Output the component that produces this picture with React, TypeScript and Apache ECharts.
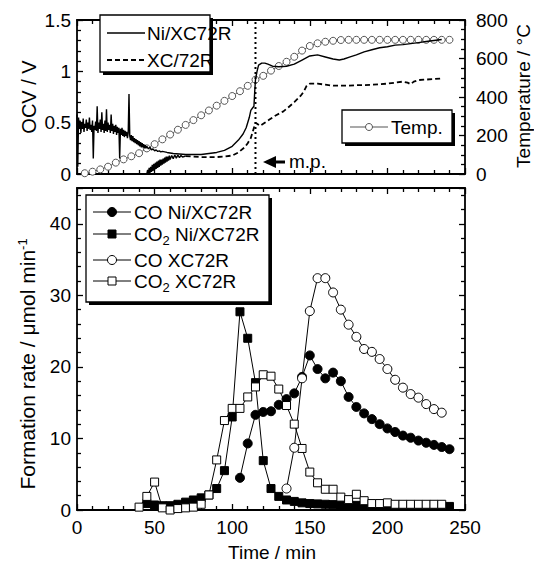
import React, { useEffect, useRef } from 'react';
import * as echarts from 'echarts';

const FONT = '"Liberation Sans", Arial, Helvetica, sans-serif';

// ---------- Top panel: OCV / V vs Time / min ----------
const niOcv: [number, number][] = [
  [0, 0.58], [0.5, 0.07], [1, 0.55], [1.5, 0.44], [2, 0.52], [2.5, 0.4], [3, 0.5], [3.5, 0.44],
  [4, 0.54], [4.5, 0.41], [5, 0.49], [5.5, 0.45], [6, 0.53], [6.5, 0.42], [7, 0.5], [7.5, 0.44],
  [8, 0.55], [8.5, 0.43], [9, 0.48], [9.5, 0.41], [10, 0.52], [10.5, 0.15], [11, 0.47], [11.5, 0.43],
  [12, 0.51], [12.5, 0.42], [13, 0.66], [13.5, 0.4], [14, 0.5], [14.5, 0.44], [15, 0.53], [15.5, 0.41],
  [16, 0.6], [16.5, 0.43], [17, 0.49], [17.5, 0.4], [18, 0.52], [18.5, 0.42], [19, 0.63], [19.5, 0.41],
  [20, 0.5], [20.5, 0.43], [21, 0.48], [21.5, 0.4], [22, 0.58], [22.5, 0.42], [23, 0.49], [23.5, 0.39],
  [24, 0.47], [24.5, 0.41], [25, 0.48], [25.5, 0.38], [26, 0.46], [26.5, 0.4], [27, 0.45], [27.5, 0.15],
  [28, 0.44], [28.5, 0.38], [29, 0.45], [29.5, 0.37], [30, 0.43], [30.5, 0.36], [31, 0.42], [31.5, 0.37],
  [32, 0.41], [32.5, 0.35], [33, 0.4], [33.5, 0.78], [34, 0.37], [34.5, 0.33], [35, 0.38], [35.5, 0.32],
  [36, 0.37], [36.5, 0.31], [37, 0.35], [37.5, 0.3], [38, 0.34], [38.5, 0.29], [39, 0.33], [39.5, 0.28],
  [40, 0.32], [40.5, 0.27], [41, 0.31], [41.5, 0.26], [42, 0.3], [42.5, 0.26], [43, 0.29], [43.5, 0.25],
  [44, 0.28], [44.5, 0.25], [45, 0.27], [46, 0.245], [47, 0.26], [48, 0.235], [49, 0.245], [50, 0.225],
  [51, 0.235], [52, 0.22], [53, 0.225], [54, 0.215], [55, 0.22], [58, 0.21], [62, 0.2], [66, 0.195],
  [70, 0.19], [75, 0.19], [80, 0.19], [85, 0.2], [90, 0.21], [95, 0.23], [100, 0.27], [104, 0.33],
  [107, 0.39], [109, 0.45], [111, 0.55], [112, 0.62], [113, 0.64], [114, 0.66], [114.5, 0.8], [115, 0.92],
  [116, 1.0], [117, 1.06], [119, 1.08], [121, 1.08], [123, 1.07], [126, 1.05], [130, 1.045], [135, 1.05],
  [140, 1.07], [145, 1.11], [150, 1.15], [155, 1.16], [160, 1.14], [165, 1.12], [169, 1.11], [172, 1.12],
  [176, 1.14], [180, 1.16], [185, 1.19], [190, 1.21], [195, 1.23], [200, 1.24], [205, 1.255], [210, 1.26],
  [215, 1.27], [220, 1.28], [225, 1.29], [230, 1.3], [235, 1.31],
];

// XC/72R: noisy onset (drawn solid, as it looks in the figure) then the dashed trace
const xcOcvOnset: [number, number][] = [
  [45, 0.0], [45.5, 0.04], [46, 0.0], [46.5, 0.06], [47, 0.01], [47.5, 0.07], [48, 0.02], [48.5, 0.09],
  [49, 0.03], [49.5, 0.1], [50, 0.04], [50.5, 0.11], [51, 0.05], [51.5, 0.12], [52, 0.06], [52.5, 0.13],
  [53, 0.07], [53.5, 0.14], [54, 0.08], [54.5, 0.14], [55, 0.09], [55.5, 0.15], [56, 0.1], [56.5, 0.16],
  [57, 0.11], [57.5, 0.17], [58, 0.12], [58.5, 0.17], [59, 0.13], [59.5, 0.18], [60, 0.14], [61, 0.18],
  [62, 0.15], [63, 0.185], [64, 0.155], [65, 0.185], [66, 0.16], [67, 0.18], [68, 0.165], [70, 0.175],
];
const xcOcv: [number, number][] = [
  [70, 0.175], [75, 0.17], [80, 0.165], [85, 0.165], [90, 0.165], [95, 0.17], [100, 0.18], [104, 0.21], [108, 0.26],
  [110, 0.3], [112, 0.35], [113, 0.4], [114, 0.45], [115, 0.5], [116, 0.49], [118, 0.47], [120, 0.49],
  [124, 0.53], [128, 0.57], [133, 0.61], [137, 0.66], [140, 0.7], [144, 0.76], [146, 0.8], [148, 0.86],
  [150, 0.88], [155, 0.88], [160, 0.87], [165, 0.86], [170, 0.86], [175, 0.86], [180, 0.865], [185, 0.865],
  [190, 0.87], [195, 0.875], [200, 0.88], [205, 0.89], [210, 0.9], [213, 0.89], [215, 0.875], [217, 0.9],
  [220, 0.915], [225, 0.92], [230, 0.925], [234, 0.93],
];

const tempTimes = [5, 10, 15, 20, 25, 30, 35, 40, 45, 50, 55, 60, 65, 70, 75, 80, 85, 90, 95, 100,
  105, 110, 115, 120, 125, 130, 135, 140, 145, 150, 155, 160, 165, 170, 175, 180, 185, 190, 195, 200,
  205, 210, 215, 220, 225, 230, 235, 240];
const tempValues = [4, 12, 24, 38, 59, 76, 92, 108, 133, 155, 180, 205, 230, 255, 280, 305, 330, 355, 380, 405,
  430, 458, 490, 510, 537, 561, 583, 609, 641, 665, 679, 687, 692, 696, 697, 697, 697, 697, 697, 697,
  697, 697, 697, 697, 697, 697, 697, 697];

const meltingPointTime = 115;
const ocvRange = [0, 1.5];

// ---------- Bottom panel: Formation rate / umol min-1 ----------
const co2NiTimes = [45, 50, 55, 60, 65, 70, 75, 80, 85, 90, 95, 100, 105, 110, 115, 120, 125, 130, 135, 140,
  145, 150, 155, 160, 165, 170, 175, 180, 185, 190, 195, 200, 205, 210, 215, 220, 225, 230, 235, 240];
const co2NiValues = [0.9, 0.7, 0.6, 0.6, 0.8, 1.1, 1.4, 1.7, 2.1, 3.0, 5.5, 13.0, 27.7, 24.0, 17.8, 6.9, 3.0, 1.9, 1.4, 1.2,
  1.0, 0.9, 0.85, 0.8, 0.75, 0.7, 0.7, 0.65, 0.6, 0.6, 0.6, 0.55, 0.55, 0.55, 0.5, 0.5, 0.5, 0.5, 0.5, 0.5];

const co2XcTimes = [40, 45, 50, 55, 60, 65, 70, 75, 80, 85, 90, 95, 100, 105, 110, 115, 120, 125, 130, 135,
  140, 145, 150, 155, 160, 165, 170, 175, 180, 185, 190, 195, 200, 205, 210, 215, 220, 225, 230, 235];
const co2XcValues = [0.4, 1.9, 3.9, 0.3, 0.0, 0.2, 0.3, 0.4, 0.8, 2.1, 7.0, 12.5, 14.2, 14.2, 15.8, 17.2, 18.9, 18.7, 16.9, 14.6,
  12.0, 8.6, 5.3, 3.8, 2.9, 2.9, 1.8, 1.45, 2.2, 1.3, 0.9, 0.9, 1.0, 0.8, 0.8, 0.8, 0.8, 0.8, 0.8, 0.8];

const coNiTimes = [105, 110, 115, 120, 125, 130, 135, 140, 145, 150, 155, 160, 165, 170, 175, 180, 185, 190,
  195, 200, 205, 210, 215, 220, 225, 230, 235, 240];
const coNiValues = [4.5, 9.3, 13.3, 13.7, 13.8, 14.7, 15.5, 16.3, 18.6, 21.6, 19.7, 18.4, 19.2, 18.0, 15.8, 14.4, 13.5, 12.7,
  12.0, 11.4, 10.9, 10.4, 10.1, 9.7, 9.4, 9.1, 8.8, 8.5];

const coXcTimes = [135, 140, 145, 150, 155, 160, 165, 170, 175, 180, 185, 190, 195, 200, 205, 210, 215, 220, 225, 230, 235];
const coXcValues = [3.0, 8.7, 18.4, 27.8, 32.4, 32.4, 30.4, 28.0, 25.9, 24.2, 22.5, 22.1, 21.1, 19.7, 18.2, 17.1, 16.2, 15.7,
  14.8, 14.1, 13.6];

const timeTicks = { min: 0, max: 250, interval: 50 };

const zip = (t: number[], v: number[]) => t.map((x, i) => [x, v[i]]);

const BLACK = '#000';
const FS = 19;
const lineSt = { color: BLACK, width: 1.8 };
const tickSt = { color: BLACK, width: 1.3 };

function xAxis(grid: number, position: string, labels: boolean) {
  return {
    type: 'value', gridIndex: grid, position, ...timeTicks,
    axisLine: { show: true, onZero: false, lineStyle: lineSt },
    axisTick: { show: true, inside: true, length: 6, lineStyle: tickSt },
    minorTick: { show: true, splitNumber: 5, length: 4, lineStyle: tickSt },
    axisLabel: { show: labels, color: BLACK, fontSize: FS, fontFamily: FONT, margin: 8 },
    splitLine: { show: false },
  };
}

function yAxis(grid: number, position: string, min: number, max: number, interval: number, minorSplit: number,
  labels: boolean, margin = 6, showMax = true) {
  return {
    type: 'value', gridIndex: grid, position, min, max, interval,
    axisLine: { show: true, onZero: false, lineStyle: lineSt },
    axisTick: { show: true, inside: true, length: 6, lineStyle: tickSt },
    minorTick: { show: true, splitNumber: minorSplit, length: 4, lineStyle: tickSt },
    axisLabel: { show: labels, color: BLACK, fontSize: FS, fontFamily: FONT, margin, showMaxLabel: showMax },
    splitLine: { show: false },
  };
}

const FTXT = `${FS}px ${FONT}`;

function buildGraphic() {
  const g: any[] = [];
  const Z = 50;
  const box = (x: number, y: number, w: number, h: number) => {
    g.push({ type: 'rect', z: Z, shape: { x: x + 3, y: y + 3, width: w, height: h }, style: { fill: BLACK } });
    g.push({ type: 'rect', z: Z + 1, shape: { x, y, width: w, height: h }, style: { fill: '#fff', stroke: BLACK, lineWidth: 1.3 } });
  };
  const txt = (x: number, y: number, text: string, extra: any = {}) => {
    g.push({
      type: 'text', z: Z + 2, x, y,
      style: { text, font: FTXT, fill: BLACK, textAlign: 'left', textVerticalAlign: 'middle', align: 'left', verticalAlign: 'middle', ...extra },
    });
  };
  const seg = (x1: number, x2: number, y: number, stroke = BLACK, lineDash: any = null, lineWidth = 1.2) => {
    g.push({ type: 'line', z: Z + 2, shape: { x1, y1: y, x2, y2: y }, style: { stroke, lineWidth, lineDash } });
  };
  const rich = { sub: { fontSize: 13, fontFamily: FONT, verticalAlign: 'bottom', padding: [12, 0, 0, 0] } };

  // OCV legend
  box(100, 15, 110, 57);
  seg(107, 145, 33, BLACK, null, 1.5);
  txt(147, 33, 'Ni/XC72R');
  seg(107, 145, 60, BLACK, [5, 3], 1.8);
  txt(147, 60, 'XC/72R');

  // Temp legend
  box(342, 110, 110, 33);
  seg(350, 388, 127, '#555', null, 1.2);
  g.push({ type: 'circle', z: Z + 3, shape: { cx: 369, cy: 127, r: 3.5 }, style: { fill: '#fff', stroke: '#555', lineWidth: 1 } });
  txt(391, 127, 'Temp.');

  // m.p. arrow
  g.push({ type: 'polygon', z: Z, shape: { points: [[263, 162], [276, 156], [276, 168]] }, style: { fill: BLACK } });
  seg(275, 285, 162, BLACK, null, 3);
  txt(289, 161, 'm.p.');

  // Formation-rate legend
  box(86, 195, 183, 107);
  const rows = [
    { y: 212, text: 'CO Ni/XC72R', sym: 'circle', fill: BLACK },
    { y: 234, text: 'CO{sub|2} Ni/XC72R', sym: 'rect', fill: BLACK },
    { y: 260, text: 'CO XC72R', sym: 'circle', fill: '#fff' },
    { y: 281, text: 'CO{sub|2} XC72R', sym: 'rect', fill: '#fff' },
  ];
  rows.forEach((r) => {
    seg(93, 131, r.y, BLACK, null, 1);
    if (r.sym === 'circle') {
      g.push({ type: 'circle', z: Z + 3, shape: { cx: 112, cy: r.y, r: 4.5 }, style: { fill: r.fill, stroke: BLACK, lineWidth: 1 } });
    } else {
      g.push({ type: 'rect', z: Z + 3, shape: { x: 108, y: r.y - 4, width: 8, height: 8 }, style: { fill: r.fill, stroke: BLACK, lineWidth: 1 } });
    }
    txt(134, r.y, r.text, { rich });
  });

  // Axis titles
  const vtitle = (x: number, y: number, text: string, font: string, extra: any = {}) => {
    g.push({
      type: 'text', z: Z, x, y, rotation: Math.PI / 2,
      style: { text, font, fill: BLACK, textAlign: 'center', textVerticalAlign: 'middle', align: 'center', verticalAlign: 'middle', ...extra },
    });
  };
  vtitle(29, 97, 'OCV / V', `20px ${FONT}`);
  vtitle(523, 96, 'Temperature / °C', FTXT);
  vtitle(27, 364, 'Formation rate / μmol min{sup|-1}', `21px ${FONT}`, {
    rich: { sup: { fontSize: 13, fontFamily: FONT, verticalAlign: 'top', padding: [0, 0, 10, 0] } },
  });
  g.push({
    type: 'text', z: Z, x: 272, y: 552,
    style: { text: 'Time / min', font: FTXT, fill: BLACK, textAlign: 'center', textVerticalAlign: 'middle', align: 'center', verticalAlign: 'middle' },
  });
  return g;
}

export default function App() {
  const ref = useRef<HTMLDivElement>(null);
  useEffect(() => {
    if (!ref.current) return;
    const chart = echarts.init(ref.current, null, { renderer: 'svg' });
    const mk = (name: string, data: any[], sym: string, size: number, fill: string) => ({
      name, type: 'line', xAxisIndex: 2, yAxisIndex: 2, data,
      symbol: sym, symbolSize: size, showSymbol: true,
      itemStyle: { color: fill, borderColor: BLACK, borderWidth: 1 },
      lineStyle: { color: BLACK, width: 1 },
    });
    chart.setOption({
      animation: false,
      backgroundColor: '#fff',
      textStyle: { fontFamily: FONT },
      grid: [
        { left: 77, top: 20, width: 388, height: 154 },
        { left: 77, top: 188, width: 388, height: 322 },
      ],
      xAxis: [xAxis(0, 'bottom', false), xAxis(0, 'top', false), xAxis(1, 'bottom', true), xAxis(1, 'top', false)],
      yAxis: [
        yAxis(0, 'left', ocvRange[0], ocvRange[1], 0.5, 5, true),
        yAxis(0, 'right', 0, 800, 200, 4, true, 11),
        yAxis(1, 'left', 0, 45, 10, 5, true, 6, false),
        yAxis(1, 'right', 0, 45, 10, 5, false),
      ],
      series: [
        {
          name: 'Temp.', type: 'line', xAxisIndex: 0, yAxisIndex: 1, data: zip(tempTimes, tempValues),
          symbol: 'circle', symbolSize: 7, showSymbol: true,
          itemStyle: { color: '#fff', borderColor: '#555', borderWidth: 1 },
          lineStyle: { color: '#666', width: 1 }, z: 2,
        },
        {
          name: 'Ni/XC72R', type: 'line', xAxisIndex: 0, yAxisIndex: 0, data: niOcv, showSymbol: false,
          lineStyle: { color: BLACK, width: 1.4 }, z: 3,
        },
        {
          name: 'XC/72R onset', type: 'line', xAxisIndex: 0, yAxisIndex: 0, data: xcOcvOnset, showSymbol: false,
          lineStyle: { color: BLACK, width: 1.4 }, z: 3,
        },
        {
          name: 'XC/72R', type: 'line', xAxisIndex: 0, yAxisIndex: 0, data: xcOcv, showSymbol: false,
          lineStyle: { color: BLACK, width: 1.8, type: [5, 3] }, z: 3,
        },
        {
          name: 'm.p.', type: 'line', xAxisIndex: 0, yAxisIndex: 0,
          data: [[meltingPointTime, ocvRange[0]], [meltingPointTime, ocvRange[1]]], showSymbol: false,
          lineStyle: { color: BLACK, width: 2, type: [2, 3] }, z: 4,
        },
        mk('CO2 Ni/XC72R', zip(co2NiTimes, co2NiValues), 'rect', 8, BLACK),
        mk('CO Ni/XC72R', zip(coNiTimes, coNiValues), 'circle', 9, BLACK),
        mk('CO2 XC72R', zip(co2XcTimes, co2XcValues), 'rect', 8, '#fff'),
        mk('CO XC72R', zip(coXcTimes, coXcValues), 'circle', 9, '#fff'),
      ],
      graphic: buildGraphic(),
    });
    return () => chart.dispose();
  }, []);
  return (
    <div
      ref={ref}
      style={{ position: 'absolute', left: 0, top: 0, width: 534, height: 565, background: '#fff' }}
    />
  );
}
